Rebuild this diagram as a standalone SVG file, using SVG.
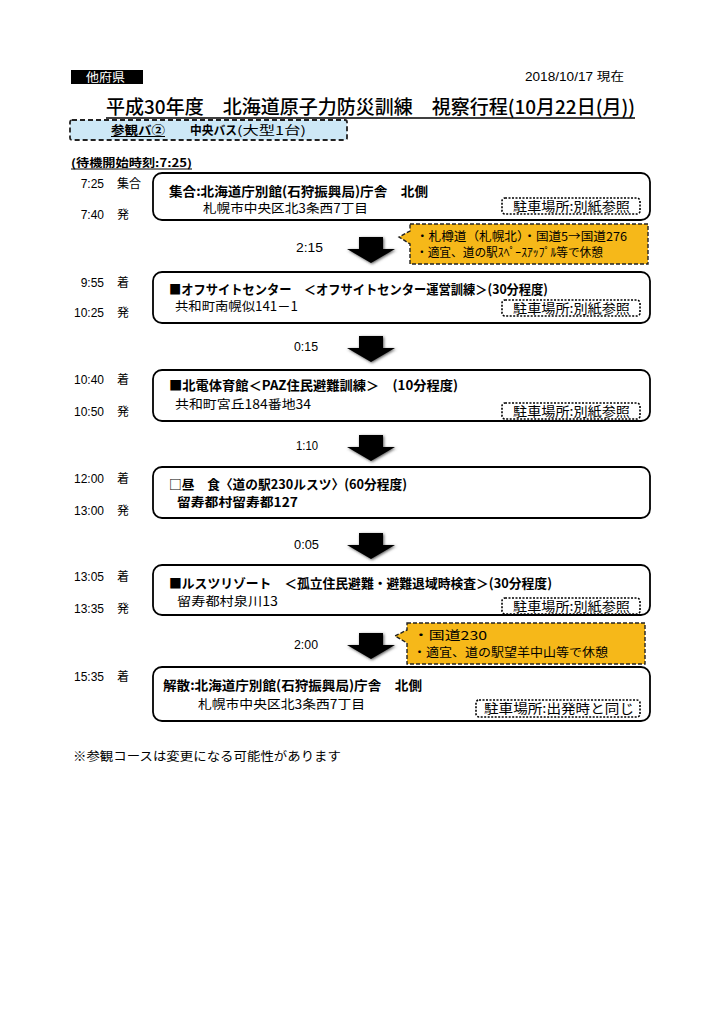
<svg xmlns="http://www.w3.org/2000/svg" width="724" height="1024" viewBox="0 0 724 1024">
<defs>
<style>
.jp{font-family:"Noto Sans CJK JP","Noto Sans",sans-serif;fill:#000}
.b{font-weight:bold}
.tm{font-family:"Liberation Sans","Noto Sans CJK JP",sans-serif;font-size:12px;fill:#000}
.tk{font-family:"Noto Sans CJK JP",sans-serif;font-size:12px;fill:#000}
.box{fill:#fff;stroke:#000;stroke-width:1.8}
.park{fill:#fff;stroke:#000;stroke-width:1.6;stroke-dasharray:2 1.5}
.call{fill:#f6b819;stroke:#222;stroke-width:1.4;stroke-dasharray:4 2}
.arw{fill:#000}
.arws{fill:#555;filter:url(#blur)}
</style>
<filter id="blur" x="-20%" y="-20%" width="140%" height="140%"><feGaussianBlur stdDeviation="1.5"/></filter>
<path id="arrow" d="M-12,0 H12 V12 H24 L0,26 L-24,12 H-12 Z"/>
</defs>
<rect width="724" height="1024" fill="#fff"/>

<g id="header">
<rect x="71" y="70" width="72" height="14" fill="#000"/>
<text class="jp" x="86" y="81.5" font-size="12" style="fill:#fff" textLength="39" lengthAdjust="spacingAndGlyphs">他府県</text>
<text class="tm" x="525" y="81" textLength="99" lengthAdjust="spacingAndGlyphs">2018/10/17 現在</text>
<text class="jp" x="106" y="114" font-size="19" font-weight="500" textLength="529" lengthAdjust="spacingAndGlyphs">平成30年度　北海道原子力防災訓練　視察行程(10月22日(月))</text>
<line x1="106" y1="118" x2="635" y2="118" stroke="#000" stroke-width="1.5"/>
</g>

<g id="bus">
<rect x="70" y="120" width="277" height="20" rx="2" fill="#cde8f6" stroke="#222" stroke-width="1.8" stroke-dasharray="5 3"/>
<text class="jp b" x="111" y="134.5" font-size="12" textLength="54" lengthAdjust="spacingAndGlyphs">参観バ②</text>
<line x1="111" y1="136.5" x2="165" y2="136.5" stroke="#000" stroke-width="1"/>
<text class="jp b" x="190" y="134.5" font-size="12" textLength="47" lengthAdjust="spacingAndGlyphs">中央バス</text>
<text class="jp" x="237" y="134.5" font-size="12" textLength="69" lengthAdjust="spacingAndGlyphs">(大型1台)</text>
<text class="jp b" x="71" y="167" font-size="11" textLength="121" lengthAdjust="spacingAndGlyphs">(待機開始時刻:7:25)</text>
<line x1="71" y1="169" x2="192" y2="169" stroke="#000" stroke-width="1"/>
</g>

<g id="connectors">
<use href="#arrow" x="372" y="238" class="arws"/><use href="#arrow" x="371" y="237" class="arw"/>
<use href="#arrow" x="372" y="337" class="arws"/><use href="#arrow" x="371" y="336" class="arw"/>
<use href="#arrow" x="372" y="436" class="arws"/><use href="#arrow" x="371" y="435" class="arw"/>
<use href="#arrow" x="372" y="534" class="arws"/><use href="#arrow" x="371" y="533" class="arw"/>
<use href="#arrow" x="372" y="634" class="arws"/><use href="#arrow" x="371" y="633" class="arw"/>
<text class="tm" x="296" y="252" textLength="27" lengthAdjust="spacingAndGlyphs">2:15</text>
<text class="tm" x="294" y="351" textLength="24" lengthAdjust="spacingAndGlyphs">0:15</text>
<text class="tm" x="296" y="450" textLength="22" lengthAdjust="spacingAndGlyphs">1:10</text>
<text class="tm" x="294" y="549" textLength="25" lengthAdjust="spacingAndGlyphs">0:05</text>
<text class="tm" x="294" y="649" textLength="24" lengthAdjust="spacingAndGlyphs">2:00</text>
</g>

<g id="times">
<text class="tm" x="104" y="188" text-anchor="end">7:25</text><text class="tk" x="117" y="188">集合</text>
<text class="tm" x="104" y="219" text-anchor="end">7:40</text><text class="tk" x="117" y="219">発</text>
<text class="tm" x="104" y="287" text-anchor="end">9:55</text><text class="tk" x="117" y="287">着</text>
<text class="tm" x="104" y="317" text-anchor="end">10:25</text><text class="tk" x="117" y="317">発</text>
<text class="tm" x="104" y="384" text-anchor="end">10:40</text><text class="tk" x="117" y="384">着</text>
<text class="tm" x="104" y="416" text-anchor="end">10:50</text><text class="tk" x="117" y="416">発</text>
<text class="tm" x="104" y="483" text-anchor="end">12:00</text><text class="tk" x="117" y="483">着</text>
<text class="tm" x="104" y="515" text-anchor="end">13:00</text><text class="tk" x="117" y="515">発</text>
<text class="tm" x="104" y="581" text-anchor="end">13:05</text><text class="tk" x="117" y="581">着</text>
<text class="tm" x="104" y="613" text-anchor="end">13:35</text><text class="tk" x="117" y="613">発</text>
<text class="tm" x="104" y="681" text-anchor="end">15:35</text><text class="tk" x="117" y="681">着</text>
</g>

<g id="node1">
<rect class="box" x="153" y="173" width="497" height="47" rx="9"/>
<text class="jp b" x="169" y="196" font-size="13" textLength="259" lengthAdjust="spacingAndGlyphs">集合:北海道庁別館(石狩振興局)庁舎　北側</text>
<text class="jp" x="203" y="213" font-size="12.5" textLength="165" lengthAdjust="spacingAndGlyphs">札幌市中央区北3条西7丁目</text>
<rect class="park" x="502" y="198" width="138" height="16" rx="3"/>
<text class="jp" x="513" y="211" font-size="13" textLength="117" lengthAdjust="spacingAndGlyphs">駐車場所:別紙参照</text>
</g>

<g id="callout1">
<path class="call" d="M410,224 H648 V264 H410 V244 L399,237 L410,231 Z"/>
<text class="jp" x="416" y="241" font-size="12" textLength="211" lengthAdjust="spacingAndGlyphs">・札樽道（札幌北）・国道5→国道276</text>
<text class="jp" x="416" y="257" font-size="12" textLength="187" lengthAdjust="spacingAndGlyphs">・適宜、道の駅ｽﾍﾟｰｽｱｯﾌﾟﾙ等で休憩</text>
</g>

<g id="node2">
<rect class="box" x="153" y="272" width="497" height="51" rx="9"/>
<text class="jp b" x="169" y="294" font-size="13" textLength="379" lengthAdjust="spacingAndGlyphs">■オフサイトセンター　＜オフサイトセンター運営訓練＞(30分程度)</text>
<text class="jp" x="175" y="311" font-size="12.5" textLength="123" lengthAdjust="spacingAndGlyphs">共和町南幌似141－1</text>
<rect class="park" x="502" y="300" width="138" height="16" rx="3"/>
<text class="jp" x="513" y="313" font-size="13" textLength="117" lengthAdjust="spacingAndGlyphs">駐車場所:別紙参照</text>
</g>

<g id="node3">
<rect class="box" x="153" y="370" width="497" height="51" rx="9"/>
<text class="jp b" x="169" y="390" font-size="13" textLength="289" lengthAdjust="spacingAndGlyphs">■北電体育館＜PAZ住民避難訓練＞　(10分程度)</text>
<text class="jp" x="175" y="409" font-size="12.5" textLength="136" lengthAdjust="spacingAndGlyphs">共和町宮丘184番地34</text>
<rect class="park" x="502" y="403" width="138" height="16" rx="3"/>
<text class="jp" x="513" y="416" font-size="13" textLength="117" lengthAdjust="spacingAndGlyphs">駐車場所:別紙参照</text>
</g>

<g id="node4">
<rect class="box" x="153" y="467" width="497" height="51" rx="9"/>
<text class="jp b" x="169" y="489" font-size="13" textLength="238" lengthAdjust="spacingAndGlyphs">□昼　食〈道の駅230ルスツ〉(60分程度)</text>
<text class="jp b" x="177" y="507" font-size="12.5" textLength="121" lengthAdjust="spacingAndGlyphs">留寿都村留寿都127</text>
</g>

<g id="node5">
<rect class="box" x="153" y="565" width="497" height="50" rx="9"/>
<text class="jp b" x="169" y="588" font-size="13" textLength="383" lengthAdjust="spacingAndGlyphs">■ルスツリゾート　＜孤立住民避難・避難退域時検査＞(30分程度)</text>
<text class="jp" x="177" y="606" font-size="12.5" textLength="101" lengthAdjust="spacingAndGlyphs">留寿都村泉川13</text>
<rect class="park" x="502" y="598" width="138" height="16" rx="3"/>
<text class="jp" x="513" y="611" font-size="13" textLength="117" lengthAdjust="spacingAndGlyphs">駐車場所:別紙参照</text>
</g>

<g id="callout2">
<path class="call" d="M407,623 H645 V664 H407 V643 L395,636 L407,630 Z"/>
<text class="jp" x="413" y="640" font-size="12" textLength="74" lengthAdjust="spacingAndGlyphs">・国道230</text>
<text class="jp" x="413" y="657" font-size="12" textLength="195" lengthAdjust="spacingAndGlyphs">・適宜、道の駅望羊中山等で休憩</text>
</g>

<g id="node6">
<rect class="box" x="153" y="667" width="497" height="54" rx="9"/>
<text class="jp b" x="163" y="690" font-size="13" textLength="259" lengthAdjust="spacingAndGlyphs">解散:北海道庁別館(石狩振興局)庁舎　北側</text>
<text class="jp" x="198" y="709" font-size="12.5" textLength="167" lengthAdjust="spacingAndGlyphs">札幌市中央区北3条西7丁目</text>
<rect class="park" x="476" y="700" width="164" height="17" rx="3"/>
<text class="jp" x="484" y="713" font-size="13" textLength="150" lengthAdjust="spacingAndGlyphs">駐車場所:出発時と同じ</text>
</g>

<g id="footer">
<text class="jp" x="73" y="761" font-size="12.5" textLength="268" lengthAdjust="spacingAndGlyphs">※参観コースは変更になる可能性があります</text>
</g>
</svg>
